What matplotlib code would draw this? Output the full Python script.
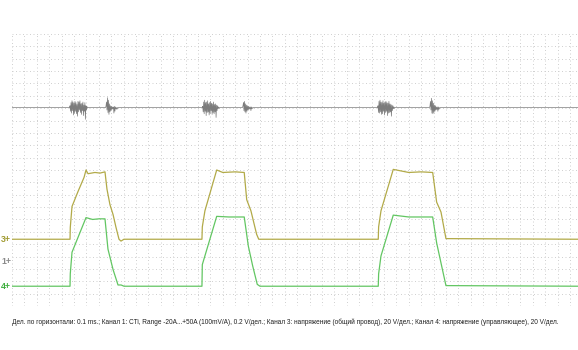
"""Осциллограмма: ток (канал 1) и напряжения (каналы 3, 4)."""

import matplotlib

matplotlib.use("Agg")

import matplotlib.pyplot as plt
import numpy as np

C_GRID = "#cfcfcf"
C_CH1 = "#7c7c7c"
C_CH3 = "#b2aa48"
C_CH4 = "#62c662"

# развёртка: 0.1 ms/дел., 20 V/дел. для каналов 3 и 4, 2 A/дел. для канала 1
MS_PER_DIV = 0.1
V_PER_DIV = 20.0
A_PER_DIV = 2.0

# канал 3: напряжение (общий провод), V
ch3_t = [0.0, 0.468, 0.470, 0.484, 0.532, 0.581, 0.597, 0.613, 0.669, 0.710, 0.750,
         0.766, 0.790, 0.815, 0.839, 0.863, 0.879, 0.903,
         1.532, 1.535, 1.556, 1.651, 1.700, 1.800, 1.873, 1.893, 1.927, 1.973, 1.990,
         2.954, 2.957, 2.976, 3.075, 3.200, 3.300, 3.393, 3.425, 3.460, 3.500, 4.565]
ch3_v = [0, 0, 19, 53, 77, 100, 112, 106, 108, 107, 109,
         81, 56, 40, 19, 0, -3, 0,
         0, 20, 46, 112, 108, 109, 108, 64, 46, 8, 0,
         0, 20, 46, 113, 108, 109, 108, 60, 44, 1, 0]

# канал 4: напряжение (управляющее), V
ch4_t = [0.0, 0.468, 0.470, 0.484, 0.597, 0.650, 0.700, 0.750, 0.774, 0.815, 0.855, 0.880, 0.903,
         1.532, 1.535, 1.651, 1.750, 1.873, 1.906, 1.941, 1.978, 2.000,
         2.954, 2.957, 2.976, 3.075, 3.200, 3.393, 3.425, 3.465, 3.500, 4.565]
ch4_v = [0, 0, 20, 55, 111, 108, 109, 109, 60, 27, 2, 2, 0,
         0, 35, 113, 112, 112, 65, 33, 3, 0,
         0, 20, 49, 115, 112, 112, 70, 33, 1, 0]

# канал 1: ток, A — всплески при переключениях (начало всплеска, ms)
ch1_dt = 0.004
burst_start = [0.468, 0.758, 1.538, 1.863, 2.952, 3.371]
burst_vals = [
    [0.3, -0.6, 0.8, -0.9, 1.1, -0.5, 0.9, -1.2, 0.7, -0.9, 1.0, -0.6, 0.8, -1.0, 0.5, -1.4,
     1.0, -0.7, 0.9, -0.4, 1.1, -0.8, 0.6, -1.1, 0.7, -0.5, 0.9, -1.3, 0.4, -0.6, 0.8, -1.9,
     0.3, -0.4, 0.2, -0.1],
    [0.2, 0.9, -0.4, 1.6, -0.8, 1.2, -1.1, 0.6, -0.7, 0.3, -0.5, 0.2, -0.3, 0.1, -0.2, 0.1,
     -0.9, 0.2, -0.6, 0.1, -0.2, 0.0, -0.3, 0.0, -0.1, 0.0],
    [0.2, -0.7, 0.9, -1.0, 1.2, -0.6, 0.8, -1.3, 0.9, -0.8, 1.1, -0.7, 0.6, -1.2, 0.8, -0.9,
     1.0, -0.5, 0.7, -1.1, 0.6, -0.8, 0.9, -1.0, 0.5, -0.7, 0.6, -1.6, 0.4, -0.5, 0.3, -0.2,
     0.1, -0.1],
    [0.3, 0.8, -0.5, 1.0, -0.7, 0.6, -0.9, 0.4, -0.6, 0.3, -0.4, 0.2, -0.3, 0.1, -0.2, 0.1,
     -0.5, 0.1, -0.2, 0.0, -0.1, 0.0],
    [0.3, -0.8, 1.0, -0.9, 1.2, -0.7, 0.9, -1.1, 0.8, -1.0, 1.1, -0.6, 0.7, -1.2, 0.9, -0.8,
     1.0, -0.6, 0.8, -1.3, 0.7, -0.9, 1.0, -0.8, 0.6, -0.7, 0.5, -1.4, 0.4, -0.5, 0.3, -0.2,
     0.1, -0.1],
    [0.2, 1.0, -0.4, 1.5, -0.9, 1.1, -1.0, 0.7, -0.8, 0.4, -0.6, 0.3, -0.4, 0.1, -0.3, 0.1,
     -0.6, 0.1, -0.3, 0.0, -0.1, 0.0],
]

# смещения каналов на экране, дел.
OFFSET_CH1 = 16.05
OFFSET_CH3 = 5.4
OFFSET_CH4 = 1.6
MARK_CH1 = 3.6

T_END = 4.565
N_DIV_Y = 22

CAPTION = ("Дел. по горизонтали: 0.1 ms.; Канал 1: CTi, Range -20A...+50A (100mV/A), "
           "0.2 V/дел.; Канал 3: напряжение (общий провод), 20 V/дел.; "
           "Канал 4: напряжение (управляющее), 20 V/дел.")


def build_ch1():
    t = [0.0]
    a = [0.0]
    for t0, vals in zip(burst_start, burst_vals):
        t.append(t0 - ch1_dt)
        a.append(0.0)
        for i, v in enumerate(vals):
            t.append(t0 + i * ch1_dt)
            a.append(v)
        t.append(t0 + len(vals) * ch1_dt)
        a.append(0.0)
    t.append(T_END)
    a.append(0.0)
    return np.array(t), np.array(a)


def main():
    plt.rcParams["font.family"] = ["Liberation Sans", "DejaVu Sans"]
    fig = plt.figure(figsize=(5.78, 3.5), dpi=100)
    fig.patch.set_facecolor("white")
    ax = fig.add_axes([12 / 578, 1 - 306 / 350, 566 / 578, 272 / 350])
    ax.set_xlim(0, T_END)
    ax.set_ylim(0, N_DIV_Y)
    ax.axis("off")

    grid_ls = (0, (1, 2.6))
    for k in range(int(T_END / MS_PER_DIV) + 1):
        ax.axvline(k * MS_PER_DIV, color=C_GRID, lw=0.7, ls=grid_ls, zorder=1)
    for k in range(N_DIV_Y + 1):
        ax.axhline(k, color=C_GRID, lw=0.7, ls=grid_ls, zorder=1)

    t1, a1 = build_ch1()
    ax.plot(t1, OFFSET_CH1 + a1 / A_PER_DIV, color=C_CH1, lw=0.5, zorder=3)
    ax.plot(ch3_t, OFFSET_CH3 + np.array(ch3_v) / V_PER_DIV, color=C_CH3, lw=0.9, zorder=3)
    ax.plot(ch4_t, OFFSET_CH4 + np.array(ch4_v) / V_PER_DIV, color=C_CH4, lw=0.9, zorder=3)

    lbl = dict(ha="left", va="center", fontsize=6.3, weight="bold")
    for txt, off, col in [("3+", OFFSET_CH3, "#a09a30"),
                          ("1+", MARK_CH1, "#8a8a8a"),
                          ("4+", OFFSET_CH4, "#3eae3e")]:
        y_fig = (1 - 306 / 350) + off / N_DIV_Y * (272 / 350)
        fig.text(1 / 578, y_fig, txt, color=col, **lbl)

    fig.text(12 / 578, 1 - 322 / 350, CAPTION, fontsize=4.7, color="#202020",
             ha="left", va="center")

    fig.savefig("out.png", dpi=100, facecolor="white")
    plt.close(fig)


if __name__ == "__main__":
    main()
